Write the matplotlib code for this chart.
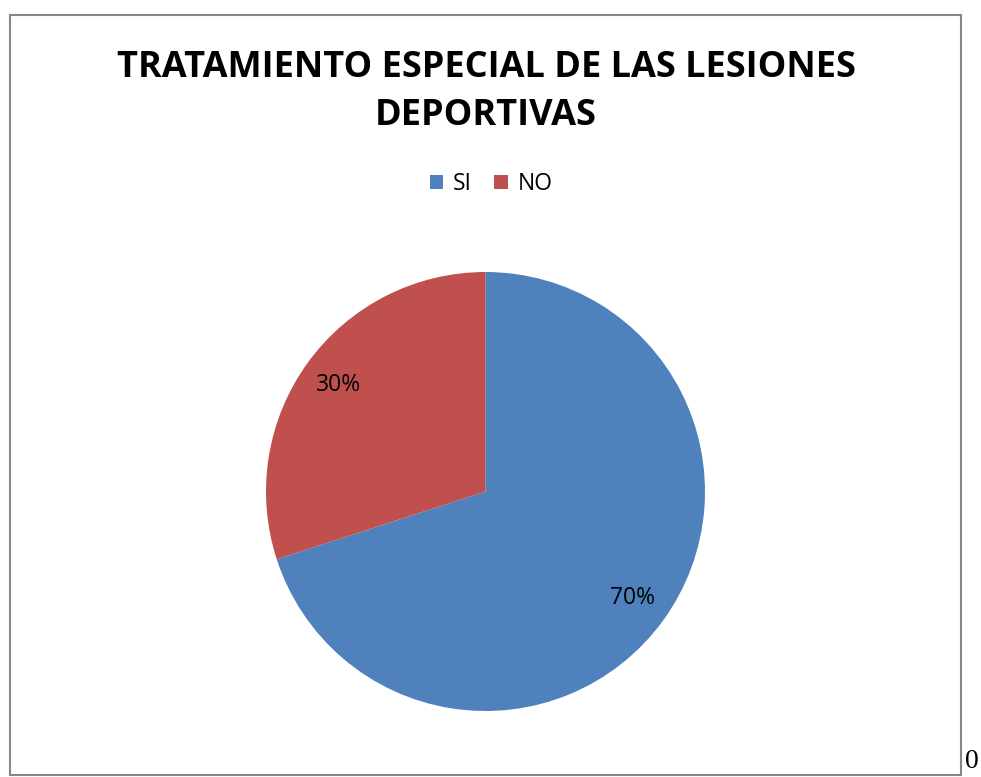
import matplotlib.pyplot as plt
from matplotlib.patches import Rectangle

labels = ['SI', 'NO']
values = [70, 30]
colors = ['#4F81BD', '#C0504D']
title = 'TRATAMIENTO ESPECIAL DE LAS LESIONES\nDEPORTIVAS'

W, H = 981, 777
fig = plt.figure(figsize=(W / 100, H / 100), dpi=100)
plt.rcParams['font.family'] = ['Open Sans', 'DejaVu Sans']

# marco del gráfico
fig.patches.append(Rectangle((10 / W, 1 - 775 / H), 951 / W, 760 / H,
                             transform=fig.transFigure, fill=False,
                             edgecolor='#878787', linewidth=1.5))

# pastel
cx, cy, r = 485.5, 491.5, 219.5
ax = fig.add_axes([(cx - r) / W, 1 - (cy + r) / H, 2 * r / W, 2 * r / H])
wedges, texts, autotexts = ax.pie(values, colors=colors, startangle=90,
                                  counterclock=False, autopct='%1.0f%%',
                                  pctdistance=0.825,
                                  textprops={'fontsize': 16.5, 'color': 'black'})
ax.set_xlim(-1, 1)
ax.set_ylim(-1, 1)

fig.text(486 / W, 1 - 92 / H, title, ha='center', va='center',
         fontsize=26, fontweight='bold', linespacing=1.45)

fig.legend(wedges, labels, loc='center', bbox_to_anchor=(491 / W, 1 - 184 / H),
           ncol=2, frameon=False, fontsize=16.5, handlelength=0.6, handleheight=0.6,
           handletextpad=0.4, columnspacing=1.0)

fig.text(965 / W, 1 - 762 / H, '0', family='Liberation Serif', fontsize=20,
         ha='left', va='center')

fig.savefig('out.png', dpi=100)
